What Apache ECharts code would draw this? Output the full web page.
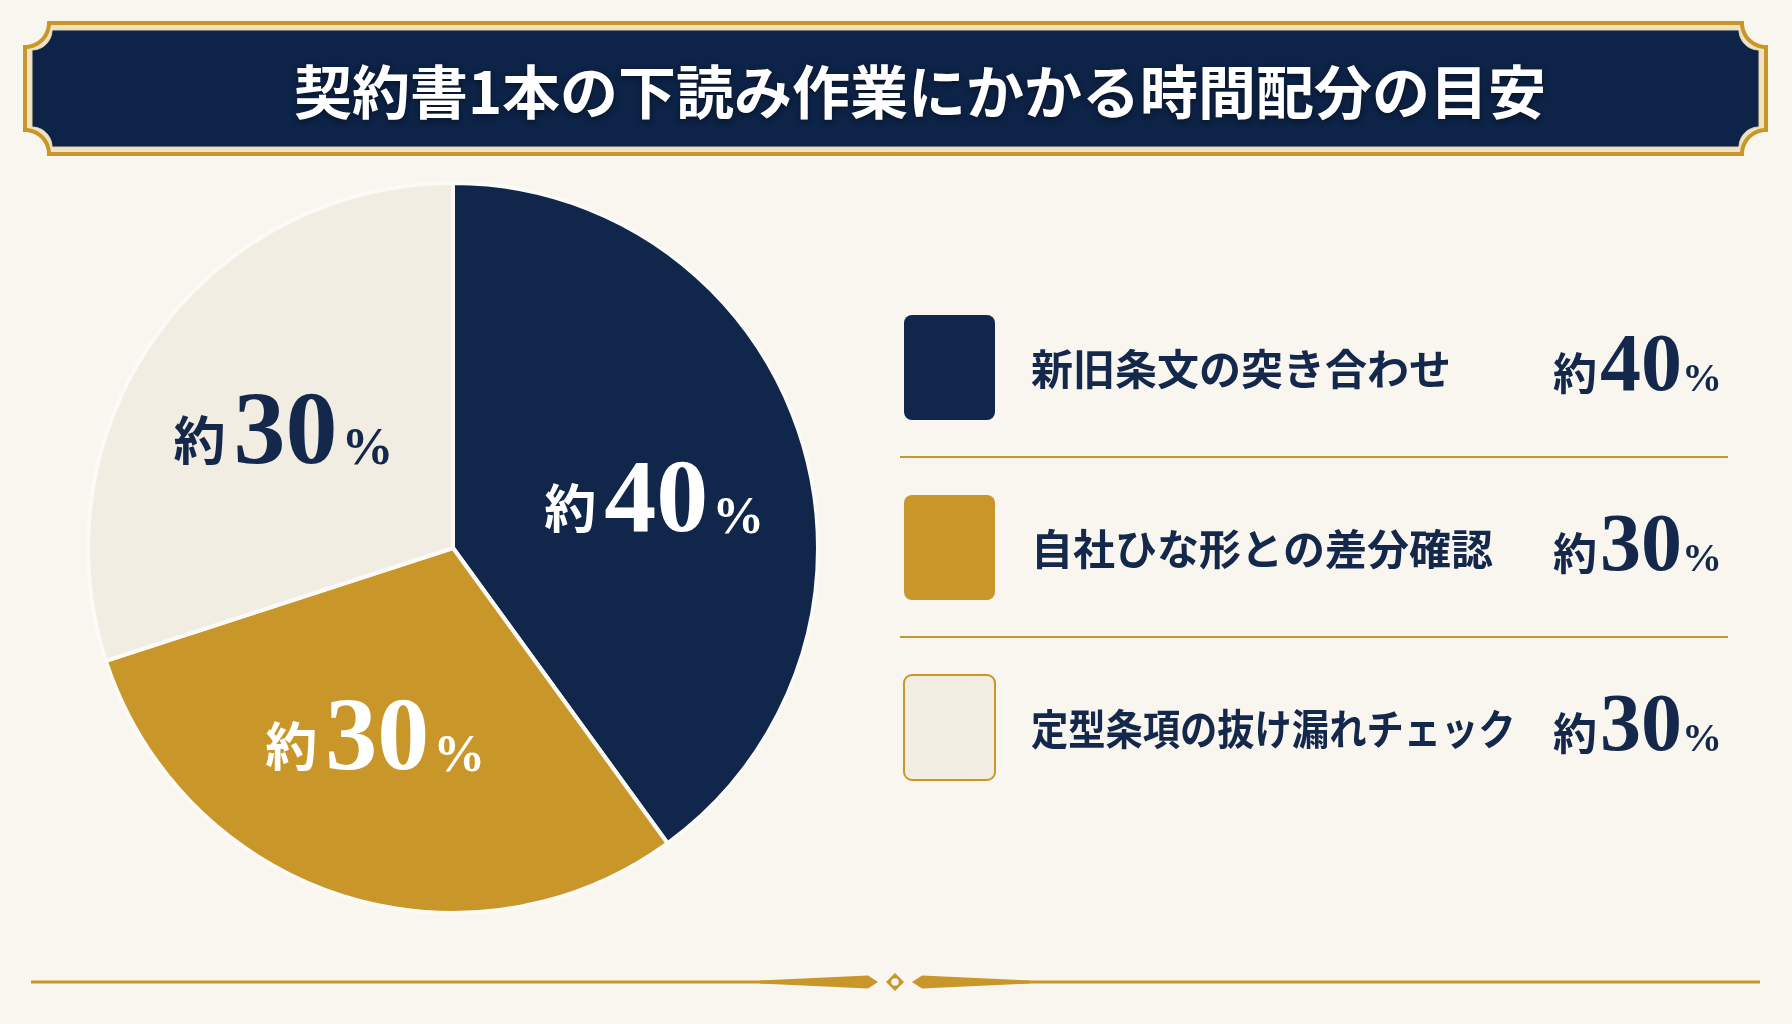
<!DOCTYPE html>
<html><head><meta charset="utf-8">
<script src="https://cdn.jsdelivr.net/npm/echarts@6/dist/echarts.min.js"></script>
<style>html,body{margin:0;padding:0;background:#F9F6F0;} #c{width:1792px;height:1024px;}</style>
</head><body><div id="c"></div>
<script>
// ---- data ----
const titleText = '契約書1本の下読み作業にかかる時間配分の目安';
const categories = ['新旧条文の突き合わせ', '自社ひな形との差分確認', '定型条項の抜け漏れチェック'];
const values = [40, 30, 30];
const valuePrefix = '約';
const valueSuffix = '%';

// ---- styles ----
const sliceColors = ['#10264A', '#C9962A', '#F2EDE3'];
const labelColors = ['#FFFFFF', '#FFFFFF', '#13284B'];
const labelOffsets = [[2, 21], [-13, -5], [0, 11]];
const NAVY = '#13284B', GOLD = '#C9962A', BG = '#F9F6F0';
const SANS = '"Noto Sans CJK JP", "Noto Sans", sans-serif';
const SERIF = '"Liberation Serif", "DejaVu Serif", serif';
const CX = 453, CY = 548, R = 365;

const chart = echarts.init(document.getElementById('c'), null, {renderer: 'canvas', width: 1792, height: 1024});

// rectangle with concave (notched) quarter-circle corners, as polygon points
function notchPoints(x0, y0, x1, y1, r) {
  const pts = [];
  const corners = [
    {cx: x1, cy: y0, a0: Math.PI, a1: Math.PI / 2},
    {cx: x1, cy: y1, a0: 3 * Math.PI / 2, a1: Math.PI},
    {cx: x0, cy: y1, a0: 0, a1: -Math.PI / 2},
    {cx: x0, cy: y0, a0: Math.PI / 2, a1: 0}
  ];
  const N = 16;
  corners.forEach(c => {
    for (let k = 0; k <= N; k++) {
      const a = c.a0 + (c.a1 - c.a0) * k / N;
      pts.push([c.cx + r * Math.cos(a), c.cy + r * Math.sin(a)]);
    }
  });
  return pts;
}

const graphics = [];
// title banner
graphics.push({type: 'polygon', shape: {points: notchPoints(25, 23, 1766, 154, 24)},
  style: {fill: '#F0E2C2', stroke: GOLD, lineWidth: 4}, silent: true});
graphics.push({type: 'polygon', shape: {points: notchPoints(32, 30, 1759, 147, 20)},
  style: {fill: '#0D2347', stroke: '#E8D6AE', lineWidth: 1}, silent: true});
graphics.push({type: 'text', x: 920, y: 92, silent: true,
  style: {text: titleText, fill: '#FFFFFF', font: 'bold 58px ' + SANS, align: 'center', verticalAlign: 'middle',
    textShadowColor: 'rgba(0,0,0,0.45)', textShadowBlur: 6, textShadowOffsetY: 2}});

// legend rows
const rowY = [367, 547, 727];
const percRich = {
  a: {font: 'bold 44px ' + SANS, fill: NAVY, verticalAlign: 'bottom', padding: [0, 3, 15, 0]},
  b: {font: 'bold 82px ' + SERIF, fill: NAVY, verticalAlign: 'bottom'},
  c: {font: 'bold 40px ' + SERIF, fill: NAVY, verticalAlign: 'bottom', padding: [0, 0, 9, 0]}
};
categories.forEach((name, i) => {
  const y = rowY[i];
  graphics.push({type: 'rect', shape: {x: 904, y: y - 52, width: 91, height: 105, r: 8}, silent: true,
    style: i === 2 ? {fill: sliceColors[i], stroke: GOLD, lineWidth: 2} : {fill: sliceColors[i]}});
  const sx = Math.min(1, 496 / (name.length * 43));
  graphics.push({type: 'text', x: 1031, y: y + 2, scaleX: sx, silent: true,
    style: {text: name, font: 'bold 42px ' + SANS, fill: NAVY, align: 'left', verticalAlign: 'middle'}});
  graphics.push({type: 'text', x: 1722, y: y + 2, silent: true,
    style: {text: `{a|${valuePrefix}}{b|${values[i]}}{c|${valueSuffix}}`, rich: percRich,
      align: 'right', verticalAlign: 'middle'}});
  if (i < categories.length - 1) {
    graphics.push({type: 'line', shape: {x1: 900, y1: y + 90, x2: 1728, y2: y + 90}, silent: true,
      style: {stroke: GOLD, lineWidth: 2}});
  }
});

// bottom ornament
const OY = 982, OCX = 895;
graphics.push({type: 'line', shape: {x1: 31, y1: OY, x2: OCX - 120, y2: OY}, style: {stroke: GOLD, lineWidth: 3}, silent: true});
graphics.push({type: 'line', shape: {x1: OCX + 120, y1: OY, x2: 1760, y2: OY}, style: {stroke: GOLD, lineWidth: 3}, silent: true});
[-1, 1].forEach(s => {
  graphics.push({type: 'polygon', silent: true, shape: {points: [
    [OCX + s * 135, OY - 1.5], [OCX + s * 27, OY - 6.5], [OCX + s * 17, OY], [OCX + s * 27, OY + 6.5], [OCX + s * 135, OY + 1.5]]},
    style: {fill: GOLD}});
});
graphics.push({type: 'polygon', silent: true, shape: {points: [[OCX, OY - 9], [OCX + 9, OY], [OCX, OY + 9], [OCX - 9, OY]]}, style: {fill: GOLD}});
graphics.push({type: 'circle', silent: true, shape: {cx: OCX, cy: OY, r: 3.8}, style: {fill: BG}});

const pieData = categories.map((n, i) => ({name: n, value: values[i], itemStyle: {color: sliceColors[i]}}));
const labelData = categories.map((n, i) => ({name: n, value: values[i],
  label: {color: labelColors[i], offset: labelOffsets[i]}}));

chart.setOption({
  backgroundColor: BG,
  animation: false,
  graphic: {elements: graphics},
  series: [
    {type: 'pie', center: [CX, CY], radius: [0, R], startAngle: 90, clockwise: true, silent: true,
      data: pieData, itemStyle: {borderColor: '#FCFAF6', borderWidth: 4},
      label: {show: false}, labelLine: {show: false}, emphasis: {disabled: true}},
    {type: 'pie', center: [CX, CY], radius: [48, R], startAngle: 90, clockwise: true, silent: true, z: 5,
      data: labelData, itemStyle: {color: 'rgba(0,0,0,0)', borderWidth: 0},
      labelLine: {show: false}, emphasis: {disabled: true},
      label: {show: true, position: 'inside',
        formatter: p => `{a|${valuePrefix}}{b|${p.value}}{c|${valueSuffix}}`,
        rich: {
          a: {fontFamily: SANS, fontWeight: 'bold', fontSize: 52, verticalAlign: 'bottom', padding: [0, 8, 22, 0]},
          b: {fontFamily: SERIF, fontWeight: 'bold', fontSize: 104, verticalAlign: 'bottom'},
          c: {fontFamily: SERIF, fontWeight: 'bold', fontSize: 52, verticalAlign: 'bottom', padding: [0, 0, 11, 4]}
        }}}
  ]
});
</script></body></html>
